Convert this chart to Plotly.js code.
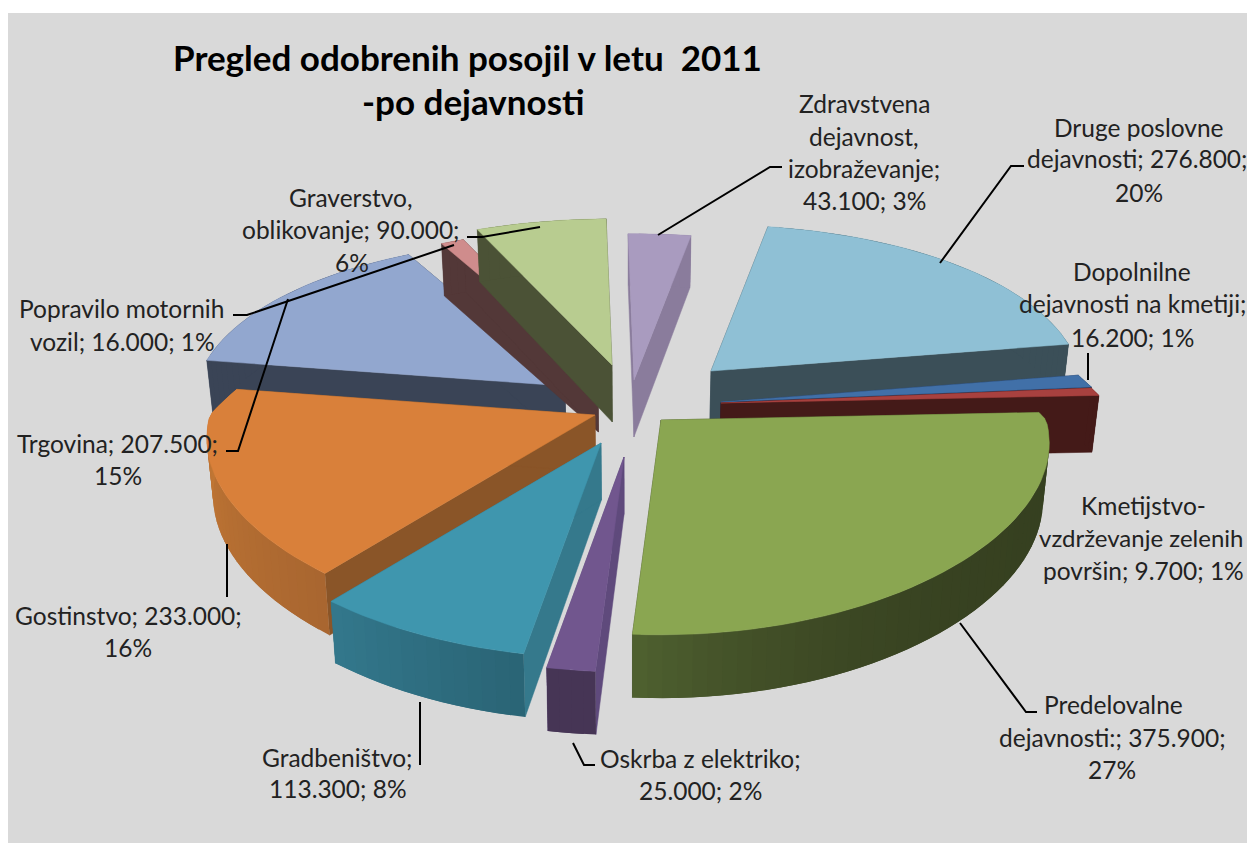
<!DOCTYPE html>
<html><head><meta charset="utf-8">
<script src="https://cdn.plot.ly/plotly-3.0.1.min.js"></script>
<style>html,body{margin:0;padding:0;background:#fff}#c{width:1247px;height:843px}</style>
</head><body><div id="c"></div>
<script>
// ---- data ----
const categories = ["Kmetijstvo-vzdrževanje zelenih površin","Predelovalne dejavnosti:","Oskrba z elektriko","Gradbeništvo","Gostinstvo","Trgovina","Popravilo motornih vozil","Graverstvo, oblikovanje","Zdravstvena dejavnost, izobraževanje","Druge poslovne dejavnosti","Dopolnilne dejavnosti na kmetiji"];
const values = [9.7,375.9,25,113.3,233,207.5,16,90,43.1,276.8,16.2];
// ---- styling ----
const topColors  = ["#a8413f","#8aa651","#71568e","#3f96ae","#d9803a","#92a7cf","#cf8c8c","#b8cc90","#a99bbf","#8fc0d5","#4170a8"];
const sideColors = ["#441a18","#364020","#5f4a7c","#35798c","#8a5528","#3a4456","#533838","#4b5236","#8a7c9c","#3b4f58","#203050"];
const arcStart   = ["#441a18","#364020","#463555","#2a6475","#a86630","#3a4456","#533838","#4b5236","#8a7c9c","#3b4f58","#203050"];
const arcEnd     = ["#441a18","#4f6130","#463555","#33788c","#c77a35","#3a4456","#533838","#4b5236","#8a7c9c","#3b4f58","#203050"];
const arcGamma   = [1,4,1,1,1,1,1,1,1,1,1];
// explosion of each slice, in pixels from the hub
const pullX = [91,31,-6,-29,-35,-65,-32,-18,4,81,91];
const pullY = [3,20,57,43,15,-14,-25,-35,-20,-29,2];
const drawOrder = [5,6,7,8,9,10,0,4,3,2,1];
const hub = {x:630,y:400}, R=385, K=174, startAngle=85, wall=57;

const titleLines = ["Pregled odobrenih posojil v letu\u00a0\u00a02011","-po dejavnosti"];
const labels = [
 {t:["Kmetijstvo-","vzdrževanje zelenih","površin; 9.700; 1%"],x:[1143,1141,1143],y:[505,537,570]},
 {t:["Predelovalne","dejavnosti:; 375.900;","27%"],x:[1113,1112,1112],y:[704,737,769]},
 {t:["Oskrba z elektriko;","25.000; 2%"],x:[700,700],y:[758,790]},
 {t:["Gradbeništvo;","113.300; 8%"],x:[337,338],y:[757,788]},
 {t:["Gostinstvo; 233.000;","16%"],x:[128,128],y:[615,647]},
 {t:["Trgovina; 207.500;","15%"],x:[117,118],y:[443,475]},
 {t:["Popravilo motornih","vozil; 16.000; 1%"],x:[121,122],y:[308,341]},
 {t:["Graverstvo,","oblikovanje; 90.000;","6%"],x:[351,351,352],y:[197,229,262]},
 {t:["Zdravstvena","dejavnost,","izobraževanje;","43.100; 3%"],x:[864,864,864,864],y:[103,136,168,200]},
 {t:["Druge poslovne","dejavnosti; 276.800;","20%"],x:[1139,1137,1139],y:[127,158,192]},
 {t:["Dopolnilne","dejavnosti na kmetiji;","16.200; 1%"],x:[1132,1132,1132],y:[271,303,337]}
];
const leaders = [
 {x:[782,770,658],y:[167,167,235]},{x:[1024,1011,940],y:[166,166,263]},{x:[1088,1088],y:[353,380]},
 {x:[1037,1026,960],y:[712,712,623]},{x:[595,584,573],y:[765,765,743]},{x:[420,420],y:[765,702]},
 {x:[227,227],y:[597,544]},{x:[226,238,288],y:[451,451,299]},{x:[233,247,454],y:[315,315,245]},
 {x:[467,482,540],y:[237,237,227]}
];

// ---- geometry from the values ----
const total = values.reduce((a,b)=>a+b,0);
const rad = d=>d*Math.PI/180;
function topPt(i,a,r){
  const v=r*Math.cos(rad(a)), u=r*Math.sin(rad(a));
  const far=1-0.04*Math.max(0,Math.min(1,v/0.15));
  return [hub.x+pullX[i]+R*u*far/(1+0.13*v), hub.y+pullY[i]-K*v/(1+0.19*v), v];
}
function botPt(i,a,r){
  const p=topPt(i,a,r);
  return [hub.x+(p[0]-hub.x)*0.985, p[1]+wall/(1+0.1*p[2])];
}
function poly(xs,ys,color,w){
  return {type:"scatter",mode:"lines",x:xs.concat(xs[0]),y:ys.concat(ys[0]),fill:"toself",fillcolor:color,
    line:{color:color,width:w},hoverinfo:"skip",showlegend:false};
}
function mix(a,b,t){
  const h=s=>[1,3,5].map(k=>parseInt(s.substr(k,2),16));
  const A=h(a),B=h(b);
  return "rgb("+A.map((c,j)=>Math.round(c+(B[j]-c)*t)).join(",")+")";
}
const bounds=[]; let acc=startAngle;
values.forEach(v=>{const a0=acc; acc+=v/total*360; bounds.push([a0,acc]);});
const traces=[];
drawOrder.forEach(i=>{
  const [a0,a1]=bounds[i], N=Math.max(2,Math.ceil((a1-a0)/2));
  const arc=[]; for(let k=0;k<=N;k++) arc.push(a0+(a1-a0)*k/N);
  // radial side walls
  [a0,a1].forEach(a=>{
    const p0=topPt(i,a,0),p1=topPt(i,a,1),q1=botPt(i,a,1),q0=botPt(i,a,0);
    traces.push(poly([p0[0],p1[0],q1[0],q0[0]],[p0[1],p1[1],q1[1],q0[1]],sideColors[i],0.5));
  });
  // outer wall, shaded in overlapping bands so that no seams show
  for(let k=0;k<N;k++){
    const e=Math.min(N,k+2);
    const xs=[],ys=[];
    for(let m=k;m<=e;m++){const p=topPt(i,arc[m],1);xs.push(p[0]);ys.push(p[1]);}
    for(let m=e;m>=k;m--){const q=botPt(i,arc[m],1);xs.push(q[0]);ys.push(q[1]);}
    const t=Math.pow((k+0.5)/N,arcGamma[i]);
    traces.push(poly(xs,ys,mix(arcStart[i],arcEnd[i],t),0));
  }
  // top face
  const xs=[topPt(i,a0,0)[0]],ys=[topPt(i,a0,0)[1]];
  arc.forEach(a=>{const p=topPt(i,a,1);xs.push(p[0]);ys.push(p[1]);});
  const t=poly(xs,ys,topColors[i],0.5); t.name=categories[i]; traces.push(t);
});
// leader lines
leaders.forEach(l=>traces.push({type:"scatter",mode:"lines",x:l.x,y:l.y,line:{color:"#000",width:2},hoverinfo:"skip",showlegend:false}));

const annotations=[];
labels.forEach(l=>l.t.forEach((s,j)=>annotations.push({text:s,x:l.x[j],y:l.y[j],xref:"x",yref:"y",showarrow:false,
  xanchor:"center",yanchor:"middle",font:{family:"Lato, sans-serif",size:j>=0&&s==="vzdrževanje zelenih"?24:24.5,color:"#222"}})));
titleLines.forEach((s,j)=>annotations.push({text:"<b>"+s+"</b>",x:[467,473][j],y:[57,101][j],xref:"x",yref:"y",showarrow:false,
  xanchor:"center",yanchor:"middle",font:{family:"Lato, sans-serif",size:35,color:"#000"}}));

Plotly.newPlot("c",traces,{
  width:1247,height:843,paper_bgcolor:"#ffffff",plot_bgcolor:"#d9d9d9",
  margin:{l:8,t:13,r:0,b:0,pad:0},
  xaxis:{range:[8,1247],visible:false,fixedrange:true},
  yaxis:{range:[843,13],visible:false,fixedrange:true},
  showlegend:false,annotations:annotations
},{staticPlot:true,displayModeBar:false});
</script></body></html>
